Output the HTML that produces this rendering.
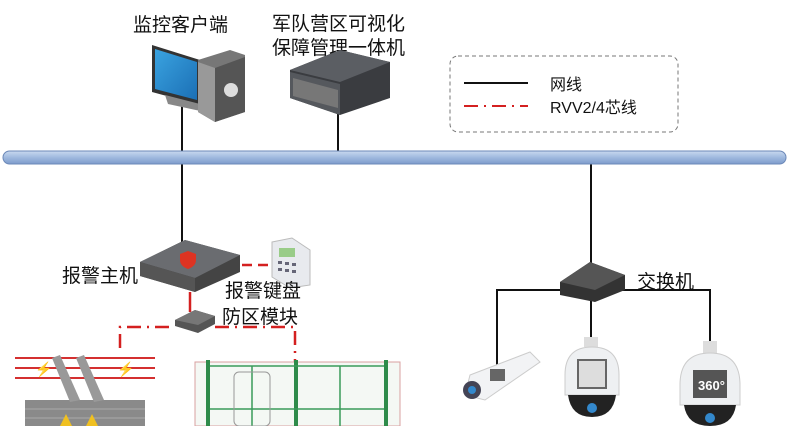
<!DOCTYPE html>
<html><head><meta charset="utf-8"><style>
html,body{margin:0;padding:0;background:#fff;}
svg{display:block}
text{font-family:"Liberation Sans","Noto Sans CJK SC",sans-serif;fill:#111}
</style></head><body>
<svg width="800" height="426" viewBox="0 0 800 426" xmlns="http://www.w3.org/2000/svg">
<defs>
<linearGradient id="bus" x1="0" y1="0" x2="0" y2="1"><stop offset="0" stop-color="#c9d9ef"/><stop offset="0.5" stop-color="#9fb9de"/><stop offset="1" stop-color="#7e9ccc"/></linearGradient>
<linearGradient id="scr" x1="0" y1="0" x2="1" y2="1"><stop offset="0" stop-color="#3aa3e0"/><stop offset="1" stop-color="#1b6fb5"/></linearGradient>
</defs>
<text x="133" y="31" font-size="19">监控客户端</text>
<text x="272" y="30" font-size="19">军队营区可视化</text>
<text x="272" y="54" font-size="19">保障管理一体机</text>
<g stroke="#111" stroke-width="2" fill="none">
<line x1="182" y1="105" x2="182" y2="152"/>
<line x1="338" y1="110" x2="338" y2="152"/>
<line x1="182" y1="163" x2="182" y2="242"/>
<line x1="591" y1="163" x2="591" y2="265"/>
<polyline points="497,368 497,290 710,290 710,345"/>
<line x1="591" y1="290" x2="591" y2="340"/>
</g>
<polygon points="152,45 200,60 200,105 152,92" fill="#333"/>
<polygon points="155,49 197,62 197,100 155,89" fill="url(#scr)"/>
<polygon points="165,95 200,104 205,112 168,104" fill="#888"/>
<polygon points="198,60 230,50 245,55 245,112 215,122 198,112" fill="#777"/>
<polygon points="198,62 215,68 215,122 198,112" fill="#999"/>
<polygon points="215,68 245,57 245,112 215,122" fill="#555"/>
<circle cx="231" cy="90" r="7" fill="#ddd"/>
<polygon points="290,70 340,50 390,62 390,98 340,115 290,98" fill="#3a3c40"/>
<polygon points="290,70 340,50 390,62 340,82" fill="#5b5e63"/>
<polygon points="290,72 340,84 340,115 290,98" fill="#55585d"/>
<polygon points="293,78 338,90 338,108 293,96" fill="#777"/>
<rect x="450" y="56" width="228" height="76" rx="8" fill="none" stroke="#777" stroke-dasharray="4,3"/>
<line x1="464" y1="83" x2="528" y2="83" stroke="#111" stroke-width="2"/>
<text x="550" y="90" font-size="16">网线</text>
<line x1="464" y1="106" x2="528" y2="106" stroke="#d42020" stroke-width="2" stroke-dasharray="14,6,2,6"/>
<text x="550" y="113" font-size="16">RVV2/4芯线</text>
<rect x="3" y="151" width="783" height="13" rx="6.5" fill="url(#bus)" stroke="#6b88b8"/>
<g stroke="#d42020" stroke-width="2.5" fill="none">
<line x1="190" y1="292" x2="190" y2="312"/>
<line x1="242" y1="265" x2="272" y2="265" stroke-dasharray="10,6"/>
<polyline points="120,348 120,327 175,327" stroke-dasharray="14,6,2,6"/>
<polyline points="215,327 295,327 295,362" stroke-dasharray="14,6,2,6"/>
</g>
<polygon points="140,262 185,240 240,255 240,272 195,292 140,276" fill="#444"/>
<polygon points="140,262 185,240 240,255 195,278" fill="#6a6c70"/>
<polygon points="140,262 195,278 195,292 140,276" fill="#555"/>
<path d="M180,254 l8,-3 8,3 v6 q0,6 -8,9 q-8,-3 -8,-9z" fill="#d32"/>
<text x="62" y="282" font-size="19">报警主机</text>
<polygon points="272,242 292,238 310,250 310,285 290,288 272,277" fill="#e8eaee" stroke="#bbb"/>
<rect x="279" y="248" width="16" height="9" fill="#9c8"/>
<g fill="#667"><rect x="278" y="261" width="4" height="3"/><rect x="285" y="262" width="4" height="3"/><rect x="292" y="263" width="4" height="3"/><rect x="278" y="268" width="4" height="3"/><rect x="285" y="269" width="4" height="3"/><rect x="292" y="270" width="4" height="3"/></g>
<text x="225" y="297" font-size="19">报警键盘</text>
<polygon points="175,320 195,310 215,316 215,324 198,333 175,326" fill="#555"/>
<polygon points="175,320 195,310 215,316 198,325" fill="#777"/>
<text x="222" y="323" font-size="19">防区模块</text>
<g stroke="#d43030" stroke-width="2"><line x1="15" y1="358" x2="155" y2="358"/><line x1="15" y1="368" x2="155" y2="368"/><line x1="15" y1="378" x2="155" y2="378"/></g>
<text x="35" y="374" font-size="14" style="fill:#d43030">⚡</text>
<text x="117" y="374" font-size="14" style="fill:#d43030">⚡</text>
<rect x="25" y="400" width="120" height="26" fill="#8a8a8a"/>
<g stroke="#aaa" stroke-width="1"><line x1="25" y1="409" x2="145" y2="409"/><line x1="25" y1="418" x2="145" y2="418"/></g>
<g fill="#999"><polygon points="52,358 60,355 80,400 70,402"/><polygon points="76,358 84,355 104,400 94,402"/></g>
<polygon points="60,426 66,414 72,426" fill="#f0c020"/><polygon points="86,426 92,414 98,426" fill="#f0c020"/>
<rect x="195" y="362" width="205" height="64" fill="#f4f8f4" stroke="#d9a0a0"/>
<g stroke="#2e8b4a" stroke-width="4"><line x1="208" y1="360" x2="208" y2="426"/><line x1="296" y1="360" x2="296" y2="426"/><line x1="386" y1="360" x2="386" y2="426"/></g>
<g stroke="#3a9a5a" stroke-width="1.5" fill="none"><line x1="210" y1="366" x2="384" y2="366"/><line x1="210" y1="409" x2="384" y2="409"/><line x1="252" y1="366" x2="252" y2="426"/><line x1="340" y1="366" x2="340" y2="426"/></g>
<rect x="234" y="372" width="36" height="54" rx="5" fill="none" stroke="#999"/>
<polygon points="560,282 590,262 625,275 625,290 595,302 560,295" fill="#333"/>
<polygon points="560,282 590,262 625,275 595,290" fill="#555"/>
<text x="637" y="288" font-size="19">交换机</text>
<polygon points="470,375 530,352 540,362 485,400 465,395" fill="#f2f3f5" stroke="#ccc"/>
<circle cx="472" cy="390" r="9" fill="#445"/><circle cx="472" cy="390" r="4" fill="#38c"/>
<rect x="490" y="369" width="15" height="12" fill="#666"/>
<rect x="584" y="337" width="14" height="10" fill="#ddd"/>
<path d="M565,375 q0,-28 27,-28 q27,0 27,28 v20 h-54z" fill="#eef0f2" stroke="#ccc"/>
<path d="M568,395 h48 q-3,22 -24,22 q-21,0 -24,-22z" fill="#222"/>
<circle cx="592" cy="408" r="5" fill="#38c"/>
<rect x="578" y="360" width="28" height="28" fill="#ddd" stroke="#666" stroke-width="2"/>
<rect x="703" y="341" width="14" height="12" fill="#ddd"/>
<path d="M680,385 q0,-32 30,-32 q30,0 30,32 v20 h-60z" fill="#eef0f2" stroke="#ccc"/>
<path d="M684,405 h52 q-3,21 -26,21 q-23,0 -26,-21z" fill="#222"/>
<circle cx="710" cy="418" r="5" fill="#38c"/>
<rect x="693" y="370" width="34" height="28" fill="#555"/>
<text x="698" y="390" font-size="13" font-weight="bold" style="fill:#fff">360°</text>
</svg>
</body></html>
